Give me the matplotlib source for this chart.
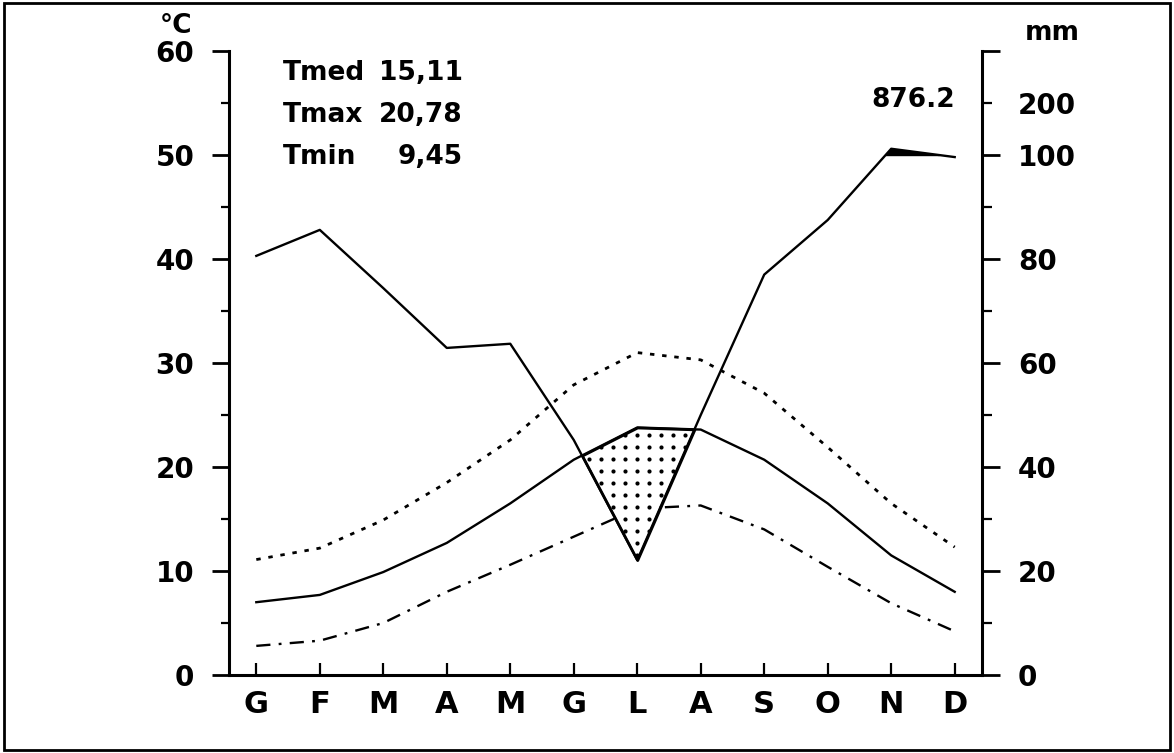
import numpy as np
import matplotlib
matplotlib.use("Agg")
from matplotlib import pyplot as plt
from matplotlib.patches import Rectangle

months = ['G', 'F', 'M', 'A', 'M', 'G', 'L', 'A', 'S', 'O', 'N', 'D']
prec_mm = [80.6, 85.6, 74.4, 62.9, 63.7, 45.2, 22.1, 50.0, 77.0, 87.5, 112.0, 99.6]
t_med = [7.0, 7.7, 9.9, 12.7, 16.5, 20.7, 23.8, 23.6, 20.7, 16.5, 11.5, 8.0]
t_max = [11.1, 12.2, 14.9, 18.5, 22.6, 27.9, 31.0, 30.3, 27.1, 21.9, 16.5, 12.3]
t_min = [2.8, 3.3, 5.0, 8.0, 10.6, 13.3, 16.0, 16.3, 14.0, 10.4, 6.9, 4.2]
stats = [('Tmed', '15,11'), ('Tmax', '20,78'), ('Tmin', '9,45')]
prec_total = '876.2'

plt.rcParams['font.family'] = ['DejaVu Sans']
plt.rcParams['font.weight'] = 'bold'

W, H = 1174, 753
fig = plt.figure(figsize=(W / 100, H / 100), dpi=100)
ax = fig.add_axes([229 / W, 1 - 675 / H, (982 - 229) / W, (675 - 51) / H])

x = np.arange(12)
p = np.array(prec_mm)
# walter-lieth scale: 20 mm = 10 C up to 100 mm, then 1/10
p_sc = np.where(p <= 100, p / 2, 50 + (p - 100) / 20)
tm = np.array(t_med)

ax.set_xlim(-0.43, 11.43)
ax.set_ylim(0, 60)

ax.plot(x, t_max, color='black', lw=2, ls=(0, (1.6, 2.8)), zorder=1)
ax.plot(x, t_min, color='black', lw=1.7, ls=(0, (6, 3.5, 1.2, 3.5)), zorder=1)

# dry period, dotted texture
dry = ax.fill_between(x, p_sc, tm, where=p_sc < tm, interpolate=True,
                      facecolor='white', edgecolor='black', lw=2, zorder=2)
gx, gy = np.meshgrid(np.arange(-0.43, 11.43, 12 / 63.55), np.arange(0, 60, 12 / 10.4))
dots = ax.scatter(gx.ravel(), gy.ravel(), s=9, color='black', lw=0, zorder=3)
dots.set_clip_path(dry.get_paths()[0], ax.transData)

# wet period above 100 mm
ax.fill_between(x, 50, p_sc, where=p_sc > 50, interpolate=True,
                facecolor='black', edgecolor='black', lw=1, zorder=3)

ax.plot(x, p_sc, color='black', lw=1.7, zorder=4)
ax.plot(x, tm, color='black', lw=1.7, zorder=4)

for s in ['top', 'right']:
    ax.spines[s].set_visible(False)
ax.spines['left'].set_linewidth(2.2)
ax.spines['bottom'].set_linewidth(2.2)

ax.set_xticks(x)
ax.set_xticklabels(months, fontsize=22)
ax.tick_params(axis='x', direction='in', length=9, width=1.6, pad=11)
ax.set_yticks(np.arange(0, 61, 10))
ax.set_yticks(np.arange(5, 60, 10), minor=True)
ax.tick_params(axis='y', which='major', direction='out', length=12, width=2, labelsize=20, pad=13)
ax.tick_params(axis='y', which='minor', direction='out', length=6, width=1.6)

ax2 = ax.twinx()
ax2.set_ylim(0, 60)
for s in ['top', 'left', 'bottom']:
    ax2.spines[s].set_visible(False)
ax2.spines['right'].set_linewidth(2.2)
ax2.set_yticks(np.arange(0, 61, 10))
ax2.set_yticklabels(['0', '20', '40', '60', '80', '100', ''])
ax2.set_yticks(list(np.arange(5, 50, 10)) + [55], minor=True)
ax2.set_yticklabels([''] * 5 + ['200'], minor=True)
ax2.tick_params(axis='y', which='major', direction='out', length=13, width=2, labelsize=20, pad=13)
ax2.tick_params(axis='y', which='minor', direction='out', length=7, width=1.6, labelsize=20, pad=19)

fig.text(160 / W, 1 - 26 / H, '°C', fontsize=19, ha='left', va='center')
fig.text(1052 / W, 1 - 33 / H, 'mm', fontsize=19, ha='center', va='center')
fig.text(955 / W, 1 - 100 / H, prec_total, fontsize=19, ha='right', va='center')

for i, (name, val) in enumerate(stats):
    yy = 1 - (73 + 42 * i) / H
    fig.text(283 / W, yy, name, fontsize=19, ha='left', va='center')
    fig.text(463 / W, yy, val, fontsize=19, ha='right', va='center')

fig.patches.append(Rectangle((0.003, 0.004), 0.994, 0.992, transform=fig.transFigure,
                             fill=False, edgecolor='black', lw=2))

fig.savefig('out.png', dpi=100)
